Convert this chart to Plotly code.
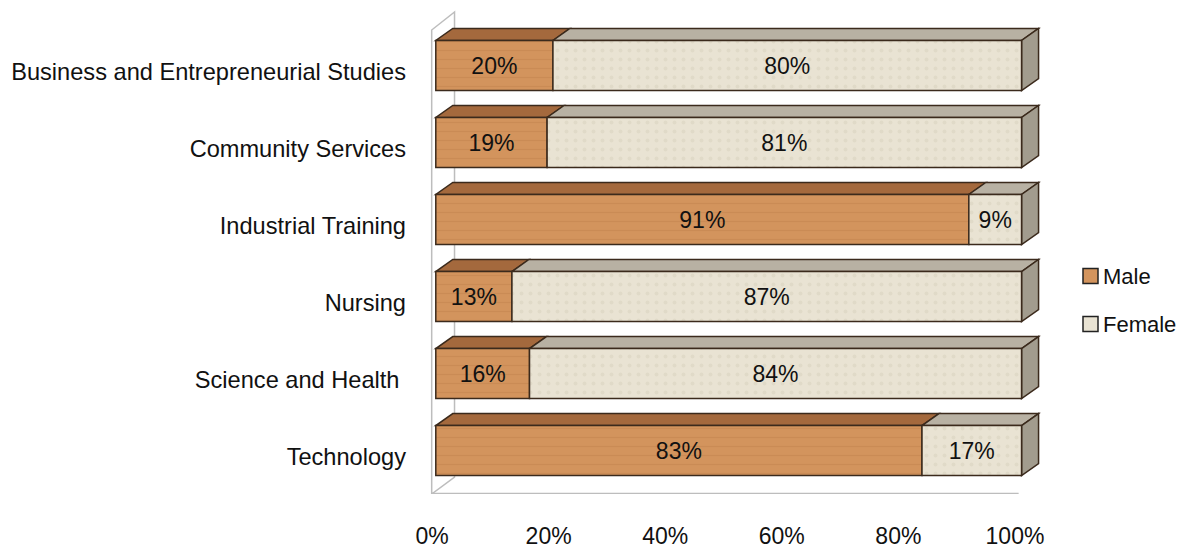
import plotly.graph_objects as go

categories = ["Technology", "Science and Health ", "Nursing", "Industrial Training",
              "Community Services", "Business and Entrepreneurial Studies"]
male = [83, 16, 13, 91, 19, 20]
female = [17, 84, 87, 9, 81, 80]
tick_vals = [0, 20, 40, 60, 80, 100]
tick_text = ["0%", "20%", "40%", "60%", "80%", "100%"]

FONT = "Liberation Sans"
FS = 23
MALE_FRONT = "#D3945D"
MALE_TOP = "#A4693D"
FEM_FRONT = "#E9E3D3"
FEM_TOP = "#B8B1A3"
FEM_SIDE = "#A29C8E"
EDGE = "#3B2A1C"
WALL = "#BDBDBD"

W = 0.65          # bar (front face) thickness in category units
OFF = 0.084       # front face shifted up from label centre
DX = 2.9          # 3D depth, x units
DY = 0.156        # 3D depth, y units
XR = [-1.5, 104]
XR2 = [-0.86, 105.15]
YR = [-0.48, 5.805]

ypos = list(range(len(categories)))

fig = go.Figure()
for name, vals, base_vals, col in [
    ("Male", male, [0] * len(male), MALE_FRONT),
    ("Female", female, male, FEM_FRONT),
]:
    fig.add_trace(go.Bar(
        y=ypos, x=vals, base=base_vals, orientation="h", name=name,
        width=W, offset=OFF - W / 2,
        marker=dict(color=col, line=dict(color=EDGE, width=1.5),
                    pattern=dict(shape="-" if name == "Male" else ".",
                                 fgcolor="#B97A45" if name == "Male" else "#CFC7B3",
                                 fgopacity=0.35, size=9, solidity=0.15)),
        text=[f"{v}%" for v in vals], textposition="inside",
        insidetextanchor="middle", textangle=0,
        textfont=dict(family=FONT, size=FS, color="#111111"),
        showlegend=False, hoverinfo="skip",
    ))

# invisible trace carrying the percentage tick axis
fig.add_trace(go.Scatter(x=[tick_vals[0], tick_vals[-1]], y=[0, 0], xaxis="x2",
                         mode="markers", marker=dict(opacity=0), showlegend=False,
                         hoverinfo="skip"))

shapes = []


def poly(pts, fill, line_col=EDGE, width=1.5):
    d = "M " + " L ".join(f"{x},{y}" for x, y in pts) + " Z"
    return dict(type="path", path=d, xref="x", yref="y", fillcolor=fill,
                line=dict(color=line_col, width=width), layer="below")


# walls (left side wall + floor edge)
wx0, wx1 = -0.7, DX + 0.3
shapes.append(poly([(wx0, YR[0]), (wx0, 5.545), (wx1, 5.78), (wx1, -0.26)],
                   "rgba(0,0,0,0)", WALL, 1.5))
shapes.append(dict(type="line", xref="x", yref="y", x0=wx0, x1=99.5,
                   y0=YR[0] + 0.005, y1=YR[0] + 0.005,
                   line=dict(color=WALL, width=1.5), layer="below"))

for k, (m, f) in enumerate(zip(male, female)):
    yb = k + OFF - W / 2
    yt = k + OFF + W / 2
    shapes.append(poly([(0, yt), (m, yt), (m + DX, yt + DY), (DX, yt + DY)], MALE_TOP))
    shapes.append(poly([(m, yt), (m + f, yt), (m + f + DX, yt + DY), (m + DX, yt + DY)], FEM_TOP))
    e = m + f
    shapes.append(poly([(e, yb), (e, yt), (e + DX, yt + DY), (e + DX, yb + DY)], FEM_SIDE))

# page is rendered with an 8px body margin -> figure px = page px - 8
SH = 8
L, R, T, B = 427 - SH, 148, 10 - SH, 62
PW, PH = 1185 - L - R, 548 - T - B


def px_x(px):
    return (px - SH - L) / PW


def px_y(py):
    return (548 - B - (py - SH)) / PH


legend_items = [("Male", MALE_FRONT, 276), ("Female", FEM_FRONT, 324)]
annotations = []
for name, col, cy in legend_items:
    shapes.append(dict(type="rect", xref="paper", yref="paper",
                       x0=px_x(1083), x1=px_x(1098),
                       y0=px_y(cy + 7.5), y1=px_y(cy - 7.5),
                       fillcolor=col, line=dict(color="#222222", width=1.5)))
    annotations.append(dict(text=name, xref="paper", yref="paper",
                            x=px_x(1101), y=px_y(cy),
                            xanchor="left", yanchor="middle", showarrow=False,
                            font=dict(family=FONT, size=22, color="#111111")))

fig.update_layout(
    width=1185, height=548,
    margin=dict(l=L, r=R, t=T, b=B, autoexpand=False),
    paper_bgcolor="white", plot_bgcolor="white",
    barmode="overlay",
    shapes=shapes, annotations=annotations,
    xaxis=dict(range=XR, showticklabels=False, showgrid=False, automargin=False,
               zeroline=False, showline=False, ticks="", fixedrange=True),
    xaxis2=dict(range=XR2, overlaying="x", anchor="y", side="bottom",
                tickvals=tick_vals, ticktext=tick_text, showgrid=False,
                automargin=False, zeroline=False, showline=False, ticks="",
                ticklabelstandoff=26,
                tickfont=dict(family=FONT, size=FS, color="#111111"), fixedrange=True),
    yaxis=dict(range=YR, tickvals=ypos, ticktext=categories, showgrid=False,
               automargin=False, zeroline=False, showline=False, ticks="",
               ticklabelstandoff=20,
               tickfont=dict(family=FONT, size=23.6, color="#111111"), fixedrange=True),
    showlegend=False,
)

fig.write_html("out.html")
